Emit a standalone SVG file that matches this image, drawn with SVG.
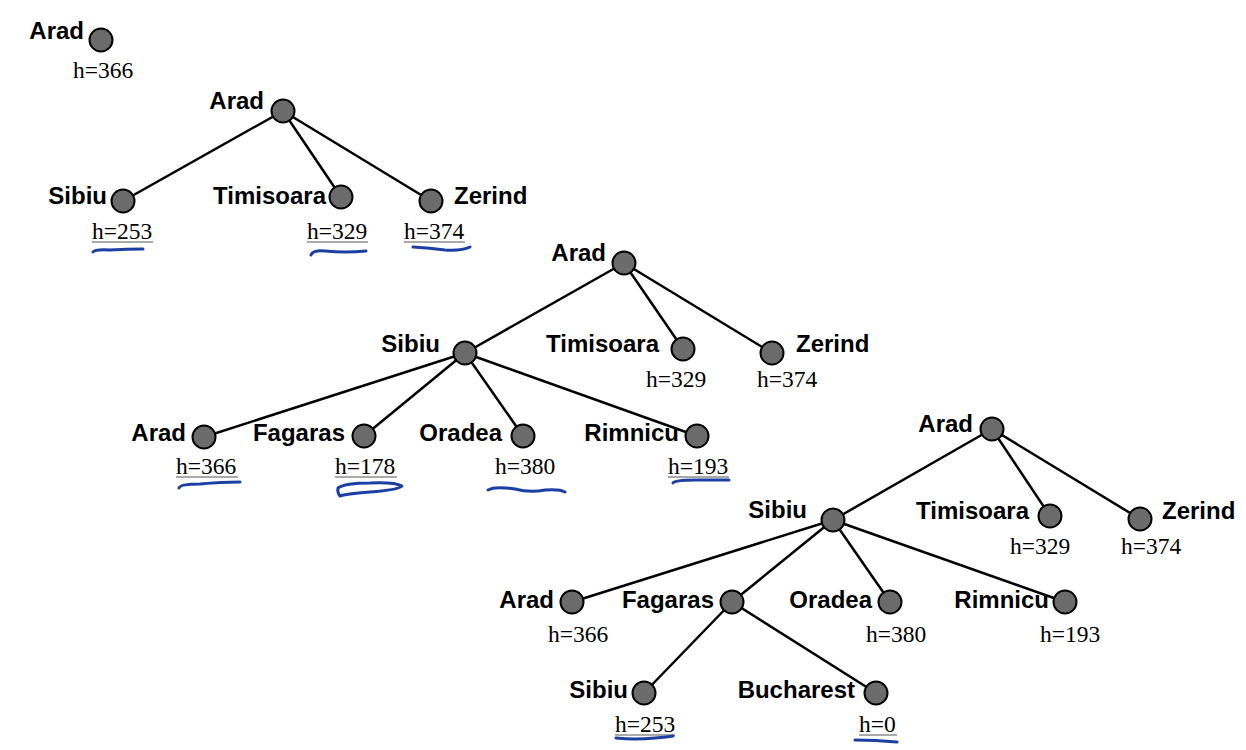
<svg xmlns="http://www.w3.org/2000/svg" width="1246" height="750" viewBox="0 0 1246 750">
<style>
.lbl{font-family:"Liberation Sans",Arial,sans-serif;font-weight:bold;font-size:24px;fill:#000}
.e{text-anchor:end}
.h{font-family:"Liberation Serif","Times New Roman",serif;font-size:23.5px;fill:#000}
.ul{stroke:#555;stroke-width:1}
.n{fill:#6b6b6b;stroke:#000;stroke-width:2}
.ln{stroke:#000;stroke-width:2.5;fill:none}
.pen{stroke:#1c3fa3;stroke-width:3;fill:none;stroke-linecap:round;stroke-linejoin:round}
</style>
<rect width="1246" height="750" fill="#fff"/>
<g id="connectors">
<line class="ln" x1="283" y1="111" x2="123" y2="201"/>
<line class="ln" x1="283" y1="111" x2="341" y2="197"/>
<line class="ln" x1="283" y1="111" x2="431" y2="201"/>
<line class="ln" x1="624" y1="263" x2="465" y2="353"/>
<line class="ln" x1="624" y1="263" x2="683" y2="349"/>
<line class="ln" x1="624" y1="263" x2="772" y2="353"/>
<line class="ln" x1="465" y1="353" x2="204" y2="437"/>
<line class="ln" x1="465" y1="353" x2="364" y2="436"/>
<line class="ln" x1="465" y1="353" x2="523" y2="436"/>
<line class="ln" x1="465" y1="353" x2="697" y2="436"/>
<line class="ln" x1="992" y1="429" x2="833" y2="520"/>
<line class="ln" x1="992" y1="429" x2="1050" y2="516"/>
<line class="ln" x1="992" y1="429" x2="1140" y2="519"/>
<line class="ln" x1="833" y1="520" x2="572" y2="602"/>
<line class="ln" x1="833" y1="520" x2="732" y2="602"/>
<line class="ln" x1="833" y1="520" x2="890" y2="602"/>
<line class="ln" x1="833" y1="520" x2="1065" y2="602"/>
<line class="ln" x1="732" y1="602" x2="644" y2="693"/>
<line class="ln" x1="732" y1="602" x2="876" y2="693"/>
</g>
<g id="t0-arad"><circle class="n" cx="101" cy="40" r="11.5"/><text class="lbl e" x="84" y="39">Arad</text><text class="h" x="73" y="78">h=366</text></g>
<g id="t1-arad"><circle class="n" cx="283" cy="111" r="11.5"/><text class="lbl e" x="264" y="109">Arad</text></g>
<g id="t1-sibiu"><circle class="n" cx="123" cy="201" r="11.5"/><text class="lbl e" x="107" y="204">Sibiu</text><text class="h" x="92" y="239">h=253</text><line class="ul" x1="92" y1="242" x2="153" y2="242"/></g>
<g id="t1-timisoara"><circle class="n" cx="341" cy="197" r="11.5"/><text class="lbl e" x="326" y="204">Timisoara</text><text class="h" x="307" y="239">h=329</text><line class="ul" x1="307" y1="242" x2="368" y2="242"/></g>
<g id="t1-zerind"><circle class="n" cx="431" cy="201" r="11.5"/><text class="lbl" x="454" y="204">Zerind</text><text class="h" x="404" y="239">h=374</text><line class="ul" x1="404" y1="242" x2="465" y2="242"/></g>
<g id="t2-arad"><circle class="n" cx="624" cy="263" r="11.5"/><text class="lbl e" x="606" y="261">Arad</text></g>
<g id="t2-sibiu"><circle class="n" cx="465" cy="353" r="11.5"/><text class="lbl e" x="440" y="352">Sibiu</text></g>
<g id="t2-timisoara"><circle class="n" cx="683" cy="349" r="11.5"/><text class="lbl e" x="659" y="352">Timisoara</text><text class="h" x="646" y="387">h=329</text></g>
<g id="t2-zerind"><circle class="n" cx="772" cy="353" r="11.5"/><text class="lbl" x="796" y="352">Zerind</text><text class="h" x="757" y="387">h=374</text></g>
<g id="t2-arad2"><circle class="n" cx="204" cy="437" r="11.5"/><text class="lbl e" x="186" y="441">Arad</text><text class="h" x="176" y="474">h=366</text><line class="ul" x1="176" y1="477" x2="238" y2="477"/></g>
<g id="t2-fagaras"><circle class="n" cx="364" cy="436" r="11.5"/><text class="lbl e" x="345" y="441">Fagaras</text><text class="h" x="335" y="474">h=178</text><line class="ul" x1="335" y1="477" x2="397" y2="477"/></g>
<g id="t2-oradea"><circle class="n" cx="523" cy="436" r="11.5"/><text class="lbl e" x="502" y="441">Oradea</text><text class="h" x="495" y="474">h=380</text></g>
<g id="t2-rimnicu"><circle class="n" cx="697" cy="436" r="11.5"/><text class="lbl e" x="679" y="441">Rimnicu</text><text class="h" x="668" y="474">h=193</text><line class="ul" x1="668" y1="477" x2="729" y2="477"/></g>
<g id="t3-arad"><circle class="n" cx="992" cy="429" r="11.5"/><text class="lbl e" x="973" y="432">Arad</text></g>
<g id="t3-sibiu"><circle class="n" cx="833" cy="520" r="11.5"/><text class="lbl e" x="807" y="518">Sibiu</text></g>
<g id="t3-timisoara"><circle class="n" cx="1050" cy="516" r="11.5"/><text class="lbl e" x="1029" y="519">Timisoara</text><text class="h" x="1010" y="554">h=329</text></g>
<g id="t3-zerind"><circle class="n" cx="1140" cy="519" r="11.5"/><text class="lbl" x="1162" y="519">Zerind</text><text class="h" x="1121" y="554">h=374</text></g>
<g id="t3-arad2"><circle class="n" cx="572" cy="602" r="11.5"/><text class="lbl e" x="554" y="608">Arad</text><text class="h" x="548" y="642">h=366</text></g>
<g id="t3-fagaras"><circle class="n" cx="732" cy="602" r="11.5"/><text class="lbl e" x="714" y="608">Fagaras</text></g>
<g id="t3-oradea"><circle class="n" cx="890" cy="602" r="11.5"/><text class="lbl e" x="872" y="608">Oradea</text><text class="h" x="866" y="642">h=380</text></g>
<g id="t3-rimnicu"><circle class="n" cx="1065" cy="602" r="11.5"/><text class="lbl e" x="1049" y="608">Rimnicu</text><text class="h" x="1040" y="642">h=193</text></g>
<g id="t3-sibiu2"><circle class="n" cx="644" cy="693" r="11.5"/><text class="lbl e" x="628" y="698">Sibiu</text><text class="h" x="615" y="732">h=253</text><line class="ul" x1="615" y1="735" x2="675" y2="735"/></g>
<g id="t3-bucharest"><circle class="n" cx="876" cy="693" r="11.5"/><text class="lbl e" x="855" y="698">Bucharest</text><text class="h" x="859" y="732">h=0</text><line class="ul" x1="859" y1="735" x2="897" y2="735"/></g>
<g id="pen-marks">
<path class="pen" d="M93,252 Q95,249 110,250 Q128,249 143,249"/>
<path class="pen" d="M311,255 Q313,250 325,251 Q345,253 366,251"/>
<path class="pen" d="M413,247 Q430,248 445,250 Q462,251 470,247"/>
<path class="pen" d="M179,488 Q180,484 200,484 Q222,482 240,482"/>
<path class="pen" d="M338,488 Q345,483 370,483 Q395,482 402,486 Q398,490 370,492 Q345,494 340,496 Q337,492 338,488"/>
<path class="pen" d="M488,490 Q495,486 515,489 Q530,493 545,490 Q560,489 565,492"/>
<path class="pen" d="M673,483 Q675,480 695,480 Q715,480 729,480"/>
<path class="pen" d="M616,738 Q635,740 655,738 Q668,737 673,736"/>
<path class="pen" d="M855,740 Q875,740 897,742"/>
</g>
</svg>
